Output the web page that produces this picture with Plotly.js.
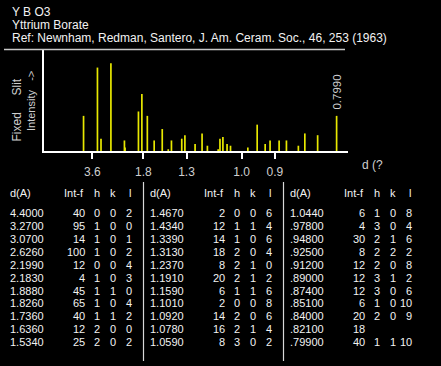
<!DOCTYPE html>
<html>
<head>
<meta charset="utf-8">
<script src="https://cdn.plot.ly/plotly-3.0.1.min.js"></script>
<style>
html,body{margin:0;padding:0;background:#000;}
#chart{width:441px;height:366px;}
</style>
</head>
<body>
<div id="chart"></div>
<script>
// ---- data ----
const titleLines = ["Y B O3", "Yttrium Borate", "Ref: Newnham, Redman, Santero, J. Am. Ceram. Soc., 46, 253 (1963)"];
const dVals = [4.4000, 3.2700, 3.0700, 2.6260, 2.1990, 2.1830, 1.8880, 1.8260, 1.7360, 1.6360, 1.5340,
               1.4670, 1.4340, 1.3390, 1.3130, 1.2370, 1.1910, 1.1590, 1.1010, 1.0920, 1.0780, 1.0590,
               1.0440, 0.97800, 0.94800, 0.92500, 0.91200, 0.89000, 0.87400, 0.85100, 0.84000, 0.82100, 0.79900];
const dLabels = ["4.4000","3.2700","3.0700","2.6260","2.1990","2.1830","1.8880","1.8260","1.7360","1.6360","1.5340",
                 "1.4670","1.4340","1.3390","1.3130","1.2370","1.1910","1.1590","1.1010","1.0920","1.0780","1.0590",
                 "1.0440",".97800",".94800",".92500",".91200",".89000",".87400",".85100",".84000",".82100",".79900"];
const intVals = [40, 95, 14, 100, 12, 4, 45, 65, 40, 12, 25,
                 2, 12, 14, 18, 8, 20, 6, 2, 14, 16, 8,
                 6, 4, 30, 8, 12, 12, 12, 6, 20, 18, 40];
const hVals = ["0","1","1","1","0","1","1","1","1","2","2",
               "0","1","1","2","2","2","1","0","2","2","3",
               "1","3","2","2","2","3","3","1","2","","1"];
const kVals = ["0","0","0","0","0","0","1","0","1","0","0",
               "0","1","0","0","1","1","1","0","0","1","0",
               "0","0","1","2","0","1","0","0","0","","1"];
const lVals = ["2","0","1","2","4","3","0","4","2","0","2",
               "6","4","6","4","0","2","6","8","6","4","2",
               "8","4","6","2","8","2","6","10","9","","10"];
const tickD = [3.6, 1.8, 1.3, 1.0, 0.9];
const tickLabels = ["3.6", "1.8", "1.3", "1.0", "0.9"];
const labelledPeak = 0.7990;
const labelledPeakText = "0.7990";
const wavelength = 1.5406; // Cu K-alpha, the card's 2-theta scale

// ---- helpers ----
const W = 441, H = 366;
const px = x => x / W;
const py = y => 1 - y / H;
const twoTheta = d => 2 * Math.asin(wavelength / (2 * d)) * 180 / Math.PI;

const stickX = [], stickY = [];
dVals.forEach((d, i) => {
  const t = twoTheta(d);
  stickX.push(t, t, null);
  stickY.push(0, intVals[i], null);
});

const sticks = {
  x: stickX, y: stickY, type: 'scatter', mode: 'lines',
  line: {color: '#e8e800', width: 1.7}, hoverinfo: 'skip', showlegend: false
};

const FONT = '"Liberation Sans", Arial, sans-serif';
const white = '#f2f2f2';
const grey = '#cfcfcf';

const annotations = [];
const shapes = [];

// header
const headY = [12, 25, 37.5];
titleLines.forEach((t, i) => {
  annotations.push({xref: 'paper', yref: 'paper', x: px(10), y: py(headY[i]), xanchor: 'left', yanchor: 'middle',
    text: t, showarrow: false, font: {family: FONT, size: 12, color: white}});
});
shapes.push({type: 'line', xref: 'paper', yref: 'paper', x0: px(4), x1: px(345), y0: py(49.5), y1: py(49.5),
  line: {color: '#c8c8c8', width: 1.5}});

// y title
annotations.push({xref: 'paper', yref: 'paper', x: px(17), y: py(110.5), xanchor: 'center', yanchor: 'middle', textangle: -90,
  text: 'Fixed\u00a0\u00a0\u00a0\u00a0\u00a0Slit',
  showarrow: false, font: {family: FONT, size: 12, color: grey}});
annotations.push({xref: 'paper', yref: 'paper', x: px(31), y: py(101), xanchor: 'center', yanchor: 'middle', textangle: -90,
  text: 'Intensity\u00a0\u00a0\u00a0->',
  showarrow: false, font: {family: FONT, size: 11, color: grey}});

// x axis unit label
annotations.push({xref: 'paper', yref: 'paper', x: px(360), y: py(165), xanchor: 'left', yanchor: 'middle',
  text: 'd (?', showarrow: false, font: {family: FONT, size: 12, color: grey}});

// peak label
annotations.push({xref: 'x', yref: 'paper', x: twoTheta(labelledPeak), y: py(92), xanchor: 'center', yanchor: 'middle', textangle: -90,
  text: labelledPeakText, showarrow: false, font: {family: FONT, size: 11.5, color: grey}});

// table
const colOff = [0, 140, 280];
const headerY = 192.7, row0 = 213.3, rowStep = 12.87, perCol = 11;
colOff.forEach((o, c) => {
  const tf = {family: FONT, size: 11, color: white};
  annotations.push({xref: 'paper', yref: 'paper', x: px(o + 8), y: py(headerY), xanchor: 'left', yanchor: 'middle', text: 'd(A)', showarrow: false, font: tf});
  annotations.push({xref: 'paper', yref: 'paper', x: px(o + 86), y: py(headerY), xanchor: 'right', yanchor: 'middle', text: 'Int-f', showarrow: false, font: tf});
  annotations.push({xref: 'paper', yref: 'paper', x: px(o + 102), y: py(headerY), xanchor: 'right', yanchor: 'middle', text: 'h', showarrow: false, font: tf});
  annotations.push({xref: 'paper', yref: 'paper', x: px(o + 118), y: py(headerY), xanchor: 'right', yanchor: 'middle', text: 'k', showarrow: false, font: tf});
  annotations.push({xref: 'paper', yref: 'paper', x: px(o + 133), y: py(headerY), xanchor: 'right', yanchor: 'middle', text: 'l', showarrow: false, font: tf});
  for (let r = 0; r < perCol; r++) {
    const i = c * perCol + r;
    if (i >= dVals.length) break;
    const y = py(row0 + r * rowStep);
    annotations.push({xref: 'paper', yref: 'paper', x: px(o + 8), y: y, xanchor: 'left', yanchor: 'middle', text: dLabels[i], showarrow: false, font: tf});
    annotations.push({xref: 'paper', yref: 'paper', x: px(o + 87), y: y, xanchor: 'right', yanchor: 'middle', text: String(intVals[i]), showarrow: false, font: tf});
    if (hVals[i] !== '') annotations.push({xref: 'paper', yref: 'paper', x: px(o + 102), y: y, xanchor: 'right', yanchor: 'middle', text: hVals[i], showarrow: false, font: tf});
    if (kVals[i] !== '') annotations.push({xref: 'paper', yref: 'paper', x: px(o + 118), y: y, xanchor: 'right', yanchor: 'middle', text: kVals[i], showarrow: false, font: tf});
    if (lVals[i] !== '') annotations.push({xref: 'paper', yref: 'paper', x: px(o + 134), y: y, xanchor: 'right', yanchor: 'middle', text: lVals[i], showarrow: false, font: tf});
  }
  if (c > 0) {
    shapes.push({type: 'line', xref: 'paper', yref: 'paper', x0: px(o + 3.5), x1: px(o + 3.5), y0: py(182), y1: py(361),
      line: {color: '#d8d8d8', width: 1.2}});
  }
});

const layout = {
  width: W, height: H,
  margin: {l: 0, r: 0, t: 0, b: 0, pad: 0},
  paper_bgcolor: '#000', plot_bgcolor: '#000',
  showlegend: false,
  xaxis: {
    domain: [px(44), px(348)], range: [0, 155], fixedrange: true,
    showgrid: false, zeroline: false,
    showline: true, linecolor: '#ffffff', linewidth: 2,
    tickmode: 'array', tickvals: tickD.map(twoTheta), ticktext: tickLabels,
    ticks: 'outside', ticklen: 6, tickwidth: 2, tickcolor: '#ffffff',
    ticklabelstandoff: 3,
    tickfont: {family: FONT, size: 12, color: grey}, anchor: 'y'
  },
  yaxis: {
    domain: [py(151), py(50)], range: [0, 115], fixedrange: true,
    showgrid: false, zeroline: false,
    showline: true, linecolor: '#ffffff', linewidth: 2,
    showticklabels: false, ticks: '', anchor: 'x'
  },
  annotations: annotations,
  shapes: shapes
};

Plotly.newPlot('chart', [sticks], layout, {displayModeBar: false, staticPlot: true});
</script>
</body>
</html>
